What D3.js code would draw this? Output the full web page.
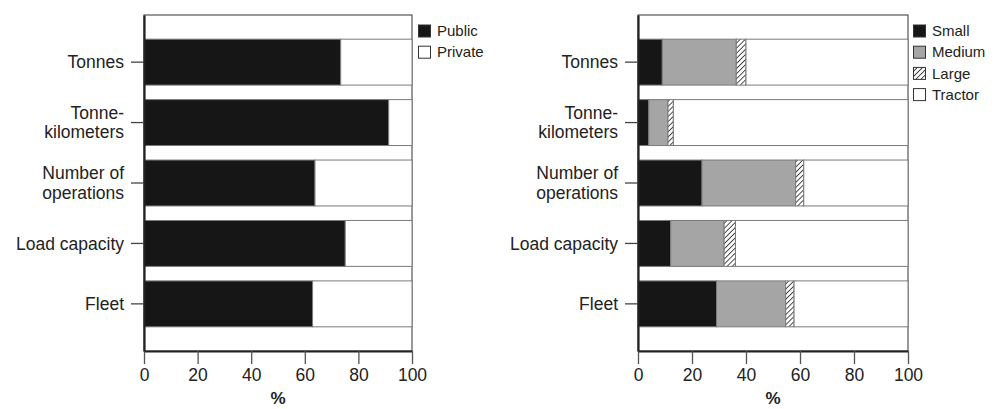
<!DOCTYPE html>
<html>
<head>
<meta charset="utf-8">
<script src="https://cdn.jsdelivr.net/npm/d3@7"></script>
<style>
  body { margin: 0; background: #fff; }
  svg { display: block; font-family: "Liberation Sans", Arial, sans-serif; }
</style>
</head>
<body>
<svg id="chart" width="1002" height="409"></svg>
<script>
// categories, top to bottom
const categories = ["Tonnes", "Tonne-kilometers", "Number of operations", "Load capacity", "Fleet"];
const categoryLines = [["Tonnes"], ["Tonne-", "kilometers"], ["Number of", "operations"], ["Load capacity"], ["Fleet"]];

// left panel: public vs private (%)
const ownershipKeys = ["Public", "Private"];
const publicShare = [73.4, 91.3, 63.8, 75.1, 62.9];
const privateShare = [26.6, 8.7, 36.2, 24.9, 37.1];

// right panel: vehicle size (%)
const sizeKeys = ["Small", "Medium", "Large", "Tractor"];
const smallShare = [9.0, 4.0, 23.7, 12.1, 29.1];
const mediumShare = [27.4, 7.1, 34.7, 19.8, 25.6];
const largeShare = [3.6, 2.0, 3.0, 4.2, 3.1];
const tractorShare = [60.0, 86.9, 38.6, 63.9, 42.2];

const xTicks = [0, 20, 40, 60, 80, 100];

const svg = d3.select("#chart");

// hatch for "Large"
const defs = svg.append("defs");
defs.append("pattern")
  .attr("id", "hatch")
  .attr("patternUnits", "userSpaceOnUse")
  .attr("width", 3.6).attr("height", 3.6)
  .attr("patternTransform", "rotate(45)")
  .call(p => {
    p.append("rect").attr("width", 3.6).attr("height", 3.6).attr("fill", "#fff");
    p.append("line").attr("x1", 0).attr("y1", 0).attr("x2", 0).attr("y2", 3.6)
      .attr("stroke", "#222").attr("stroke-width", 1.6);
  });

const fills = {
  Public: "#161616", Private: "#fff",
  Small: "#161616", Medium: "#a4a5a4", Large: "url(#hatch)", Tractor: "#fff"
};

function drawPanel(x0, x1, keys, series, legendX) {
  const top = 15, bottom = 351;
  const g = svg.append("g");

  const x = d3.scaleLinear().domain([0, 100]).range([x0, x1]);
  const y = d3.scaleBand().domain(categories).range([top, bottom])
    .paddingInner(0.24).paddingOuter(0.4);

  // rows -> stacked
  const rows = categories.map((c, i) => {
    const r = { cat: c };
    keys.forEach((k, j) => r[k] = series[j][i]);
    return r;
  });
  const stacked = d3.stack().keys(keys)(rows);

  // frame background
  g.append("rect")
    .attr("x", x(0)).attr("y", top)
    .attr("width", x(100) - x(0)).attr("height", bottom - top)
    .attr("fill", "#fff").attr("stroke", "#333").attr("stroke-width", 1);

  g.selectAll("g.layer")
    .data(stacked)
    .join("g")
    .attr("class", "layer")
    .attr("fill", d => fills[d.key])
    .selectAll("rect")
    .data(d => d)
    .join("rect")
    .attr("x", d => x(d[0]))
    .attr("y", d => y(d.data.cat))
    .attr("width", d => x(d[1]) - x(d[0]))
    .attr("height", y.bandwidth())
    .attr("stroke", "#7a7a7a")
    .attr("stroke-width", 1);

  // x axis
  const xa = g.append("g")
    .attr("transform", `translate(0,${bottom})`)
    .call(d3.axisBottom(x).tickValues(xTicks).tickSize(13).tickSizeOuter(0)
      .tickPadding(5).tickFormat(d3.format("d")));
  xa.select(".domain").attr("stroke", "#222").attr("stroke-width", 2.2);
  xa.selectAll(".tick line").attr("stroke", "#555").attr("stroke-width", 1.3);
  xa.selectAll(".tick text").attr("fill", "#222").style("font-size", "17.5px");

  // y axis
  const ya = g.append("g")
    .attr("transform", `translate(${x0},0)`)
    .call(d3.axisLeft(y).tickSize(13).tickSizeOuter(0).tickPadding(7).tickFormat(""));
  ya.select(".domain").attr("stroke", "#222").attr("stroke-width", 2.2);
  ya.selectAll(".tick line").attr("stroke", "#444").attr("stroke-width", 1.3);
  ya.selectAll(".tick text").each(function (d) {
    const lines = categoryLines[categories.indexOf(d)];
    const t = d3.select(this)
      .attr("fill", "#222")
      .style("font-size", "17.5px")
      .attr("dy", null)
      .attr("y", 0);
    const lh = 19.5;
    lines.forEach((s, i) => {
      t.append("tspan")
        .attr("x", -20)
        .attr("y", (i - (lines.length - 1) / 2) * lh)
        .attr("dy", "0.35em")
        .text(s);
    });
  });

  // x label
  g.append("text")
    .attr("x", (x0 + x1) / 2)
    .attr("y", 404)
    .attr("text-anchor", "middle")
    .style("font-size", "17px")
    .style("font-weight", "bold")
    .attr("fill", "#222")
    .text("%");

  // legend
  const lg = g.append("g").attr("transform", `translate(${legendX},0)`);
  const ly = d3.scaleBand().domain(keys).range([20, 20 + keys.length * 21.2]);
  keys.forEach(k => {
    lg.append("rect")
      .attr("x", 0.5).attr("y", ly(k) + 5)
      .attr("width", 12).attr("height", 12)
      .attr("fill", fills[k])
      .attr("stroke", "#333").attr("stroke-width", 1);
    lg.append("text")
      .attr("x", 19).attr("y", ly(k) + 11)
      .attr("dy", "0.35em")
      .style("font-size", "15px")
      .attr("fill", "#222")
      .text(k);
  });
}

drawPanel(144, 412, ownershipKeys, [publicShare, privateShare], 418);
drawPanel(638, 908, sizeKeys, [smallShare, mediumShare, largeShare, tractorShare], 913);
</script>
</body>
</html>
